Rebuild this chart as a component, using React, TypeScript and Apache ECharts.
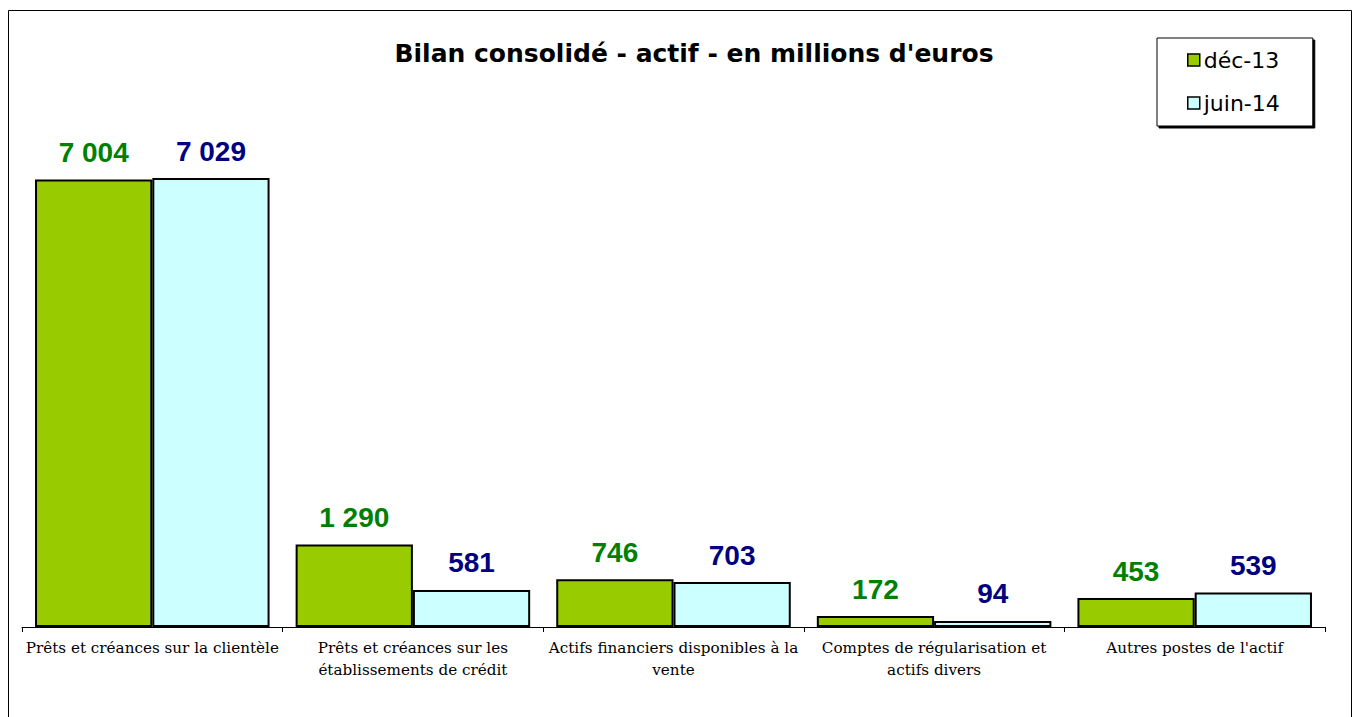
import React, { useEffect, useRef } from "react";
import * as echarts from "echarts";

const categories = [
  "Prêts et créances sur la clientèle",
  "Prêts et créances sur les\nétablissements de crédit",
  "Actifs financiers disponibles à la\nvente",
  "Comptes de régularisation et\nactifs divers",
  "Autres postes de l'actif",
];
const seriesNames = ["déc-13", "juin-14"];
const dec13 = [7004, 1290, 746, 172, 453];
const juin14 = [7029, 581, 703, 94, 539];

const fmt = (v: number) => String(v).replace(/\B(?=(\d{3})+(?!\d))/g, " ");

export default function App() {
  const ref = useRef<HTMLDivElement>(null);
  useEffect(() => {
    if (!ref.current) return;
    const chart = echarts.init(ref.current, null, { renderer: "svg" });
    const labelBase = {
      show: true,
      position: "top" as const,
      distance: 13,
      fontFamily: "Liberation Sans, Arial, sans-serif",
      fontWeight: "bold" as const,
      fontSize: 28,
      formatter: (p: any) => fmt(p.value),
    };
    chart.setOption({
      animation: false,
      backgroundColor: "#ffffff",
      title: {
        text: "Bilan consolidé - actif - en millions d'euros",
        left: 689,
        textAlign: "center",
        top: 36,
        textStyle: {
          fontFamily: "DejaVu Sans, sans-serif",
          fontWeight: "bold",
          fontSize: 25,
          color: "#000",
        },
      },
      legend: {
        orient: "vertical",
        left: 1157,
        top: 38,
        padding: [11, 33, 12, 30],
        itemGap: 21,
        itemWidth: 12,
        itemHeight: 12,
        borderColor: "#000",
        borderWidth: 1,
        backgroundColor: "#fff",
        shadowColor: "#000",
        shadowOffsetX: 2,
        shadowOffsetY: 2,
        shadowBlur: 0,
        itemStyle: { borderColor: "#000", borderWidth: 1.5 },
        textStyle: {
          fontFamily: "DejaVu Sans, sans-serif",
          fontSize: 22,
          color: "#000",
          padding: [0, 0, 0, -1],
        },
        data: seriesNames.map((n) => ({ name: n, icon: "rect" })),
      },
      grid: { left: 22, right: 32, top: 116, bottom: 90, containLabel: false },
      xAxis: {
        type: "category",
        data: categories,
        axisLine: { lineStyle: { color: "#000", width: 1 } },
        axisTick: { show: true, length: 5, lineStyle: { color: "#000" } },
        axisLabel: {
          interval: 0,
          margin: 10,
          fontFamily: "DejaVu Serif, serif",
          fontSize: 15.2,
          lineHeight: 22,
          color: "#000",
        },
      },
      yAxis: { type: "value", min: 0, max: 8000, show: false, splitLine: { show: false } },
      graphic: [
        {
          type: "rect",
          shape: { x: 8.5, y: 10.5, width: 1343, height: 730 },
          style: { fill: "none", stroke: "#000", lineWidth: 1 },
          silent: true,
        },
      ],
      series: [
        {
          name: seriesNames[0],
          type: "bar",
          data: dec13,
          barGap: "0%",
          barCategoryGap: "10%",
          itemStyle: { color: "#99cc00", borderColor: "#000", borderWidth: 2 },
          label: { ...labelBase, color: "#008000" },
        },
        {
          name: seriesNames[1],
          type: "bar",
          data: juin14,
          barGap: "0%",
          barCategoryGap: "10%",
          itemStyle: { color: "#ccffff", borderColor: "#000", borderWidth: 2 },
          label: { ...labelBase, color: "#000080" },
        },
      ],
    });
    return () => chart.dispose();
  }, []);
  return (
    <div
      ref={ref}
      style={{ position: "absolute", left: 0, top: 0, width: 1357, height: 717 }}
    />
  );
}
